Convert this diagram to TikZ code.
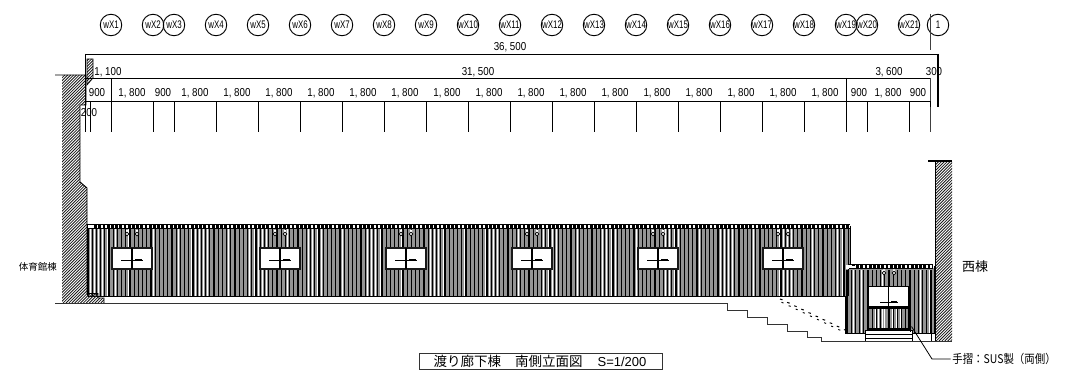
\documentclass[tikz,border=0pt]{standalone}
\usepackage{fontspec}
\setmainfont{Liberation Sans}
\newfontfamily\jp{Noto Sans CJK JP}
\tikzset{
 bub/.style={circle,draw=black,line width=0.95pt,minimum size=21.5pt,inner sep=0pt,font=\fontsize{11}{11}\selectfont},
 dim/.style={inner sep=0pt,font=\fontsize{11.5}{11.5}\selectfont,xscale=0.85,transform shape},
 jt/.style={inner sep=0pt},
 ln/.style={line width=0.95pt,black},
 thk/.style={line width=1.2pt,black}
}
\newcommand{\wnd}[1]{%
 \fill[white] (#1+1,247) rectangle (#1+40,270);
 \draw[line width=2.3pt,black!90] (#1+1.2,248.2) rectangle (#1+40.8,269);
 \draw[line width=1.5pt] (#1+21,248) -- (#1+21,269);
 \draw[line width=0.7pt] (#1+10,260) -- (#1+32,260);
 \draw[line width=1.1pt] (#1+11,260.6) -- (#1+18,260.6) (#1+24,259.4) -- (#1+31,259.4);
 \fill[white] (#1+15,230) rectangle (#1+17,233) (#1+25,230) rectangle (#1+27,233);
 \draw[line width=0.7pt,fill=white] (#1+16,234) circle (1.8) (#1+26,234) circle (1.8);
}
\newcommand{\hatch}[4]{% x0 y0 x1 y1 : dense / hatch, clip set by caller
 \foreach \k in {0,...,150} \draw[line width=0.8pt,black!90] ({#1+\k*2.9-(#4-#2)},#4) -- ({#1+\k*2.9},#2);
}
\begin{document}
\begin{tikzpicture}[x=1pt,y=-1pt]
\useasboundingbox (0,0) rectangle (1068,374);
\fill[white] (0,0) rectangle (1068,374);
% bubbles
\foreach \n/\x in {wX1/111,wX2/153,wX3/174,wX4/216,wX5/258,wX6/300,wX7/342,wX8/384,wX9/426,wX10/468,wX11/510,wX12/552,wX13/594,wX14/636,wX15/678,wX16/720,wX17/762,wX18/804,wX19/846,wX20/867,wX21/909,1/938}
 \node[bub] (b\n) at (\x,25) {\scalebox{0.72}[1]{\n}};
% building corrugation
\fill[black!42] (88,228) rectangle (850,296);
\fill[black!42] (846,268) rectangle (934,333);
\foreach \i in {0,...,181} \draw[line width=1.15pt,black] ({88+\i*4.2},228) -- ({88+\i*4.2},296);
\foreach \i in {0,...,21} \draw[line width=1.15pt,black] ({847+\i*4.2},270) -- ({847+\i*4.2},333);
\foreach \b in {0,1,2,3,4,6,9,15,21,24,25,26,27,28,33,38,39,40,41,42,47,52,53,54,55,60,66,67,68,69,74,81,82,83,84,89,94,95,96,97,102,108,109,110,111,116,122,123,124,125,130,137,138,139,140,145,150,151,152,153,158,164,165,166,167,172,178,179}
 \draw[white,line width=0.75pt] ({88+\b*4.2+2.1},228) -- ({88+\b*4.2+2.1},295.5);
\foreach \b in {1,3,8,17,19}
 \draw[white,line width=0.75pt] ({847+\b*4.2+2.1},270) -- ({847+\b*4.2+2.1},333);
% long building outline
\draw[line width=1.3pt] (88,296.5) -- (846,296.5);
\draw[line width=0.9pt] (88,226) -- (88,296);
\draw[line width=0.9pt] (850,226) -- (850,265);
% roof
\draw[line width=1.1pt] (88,224.6) -- (850,224.6) (88,228.6) -- (850,228.6);
\draw[line width=3.2pt,dash pattern=on 2.8pt off 1.4pt] (90,226.7) -- (850,226.7);
\fill[white] (846,264.5) rectangle (933,269);
\draw[line width=1.1pt] (849,264.6) -- (933,264.6) (849,268.8) -- (933,268.8);
\draw[line width=3.2pt,dash pattern=on 2.8pt off 1.4pt] (852,266.8) -- (933,266.8);
\fill[white] (849,265.5) rectangle (855,268.2);
\fill[white] (88,225) rectangle (95,228);
\draw[line width=0.5pt] (87.5,224) rectangle (94,228);
% windows
\foreach \x in {111,259,385,511,637,762} \wnd{\x};
% low building
\draw[line width=1.3pt] (846,296) -- (846,333.5) -- (935,333.5);
\draw[line width=0.9pt] (934,266) -- (934,334);
\draw[line width=0.6pt] (931,334) -- (931,341);
% door
\fill[white] (868,286) rectangle (909,306);
\foreach \x in {875,878,884,892,896,900} \fill[white] (\x,309) rectangle (\x+1.3,328);
\draw[line width=1.8pt] (868.5,286.5) rectangle (908.5,329);
\draw[line width=1.3pt] (888.5,286.5) -- (888.5,329);
\draw[line width=1.2pt] (868.5,308) -- (908.5,308);
\draw[line width=0.6pt] (868.5,306) -- (908.5,306);
\draw[line width=0.6pt] (880,302) -- (898,302);
\draw[line width=1pt] (880,302.5) -- (886,302.5) (891,301.5) -- (897,301.5);
\fill[white] (883,269.3) rectangle (885,272) (893,269.3) rectangle (895,272);
\draw[line width=0.7pt,fill=white] (884,273) circle (1.8) (894,273) circle (1.8);
% steps at door
\fill[white] (865,330) rectangle (912,341);
\draw[line width=0.8pt] (865.5,330) rectangle (912,341) (865.5,334) -- (912,334) (865.5,338) -- (912,338);
\draw[line width=1.3pt] (910.5,312) -- (910.5,332);
% walls
\begin{scope}
\clip (62,75) -- (86,75) -- (86,105) -- (80,105) -- (80,182) -- (87,188) -- (87,293.5) -- (98,293.5) -- (98,298) -- (104,298) -- (104,303) -- (62,303) -- cycle;
\hatch{62}{75}{86}{303}
\end{scope}
\draw[ln] (55,75) -- (86,75) -- (86,105) -- (80,105) -- (80,182) -- (87,188) -- (87,293.5) -- (98,293.5) -- (98,298) -- (104,298) -- (104,303);
\begin{scope}
\clip (87,59) -- (93,59) -- (93,78) -- (87,85) -- cycle;
\hatch{80}{59}{93}{85}
\end{scope}
\draw[line width=0.6pt] (87,59) -- (93,59) -- (93,78) -- (87,85) -- cycle;
\begin{scope}
\clip (935.5,161) rectangle (952,341);
\hatch{800}{161}{952}{341}
\end{scope}
\draw[line width=0.95pt] (935.5,161) -- (935.5,341);
\draw[line width=1.6pt] (928,161) -- (952,161);
% ground and stairs
\draw[line width=1pt,black!80] (55,303.5) -- (727,303.5) -- (727,310.5) -- (747,310.5) -- (747,317.5) -- (767,317.5) -- (767,324.5) -- (787,324.5) -- (787,331) -- (807,331) -- (807,337.5) -- (821.5,337.5) -- (821.5,341) -- (952,341);
% rail dashes
\foreach \k in {0,...,9} {
 \draw[line width=1pt] ({780+\k*7.1},{299+\k*3.4}) -- ({782.5+\k*7.1},{299.8+\k*3.4});
 \draw[line width=0.9pt] ({781.5+\k*7.1},{302.3+\k*3.4}) -- ({783.5+\k*7.1},{303+\k*3.4});
}
% dimension lines
\coordinate (da) at (85,54); \coordinate (db) at (938,54);
\coordinate (dc) at (85,78); \coordinate (dd) at (930.5,78);
\coordinate (de) at (85,101.5); \coordinate (df) at (930.5,101.5);
\draw[ln] (da) -- (db) (dc) -- (dd) (de) -- (df);
\draw[line width=1pt] (85,54) -- (85,132);
\draw[line width=0.8pt] (90,101.5) -- (90,132);
\foreach \x in {111,153,174,216,258,300,342,384,426,468,510,552,594,636,678,720,762,804,846.5,867,909} \draw[ln] (\x,101.5) -- (\x,132);
\draw[ln] (111,78) -- (111,101.5) (846.5,78) -- (846.5,101.5);
\draw[line width=0.8pt,black!75] (930.5,14) -- (930.5,50) (930.5,78) -- (930.5,132);
\draw[line width=1.6pt] (938,54) -- (938,107);
\draw[line width=1.2pt] (930.5,101.5) -- (930.5,107);
% dim text
\node[dim] at (510,47) {36,\kern3pt 500};
\node[dim] at (108,72) {1,\kern3pt 100};
\node[dim] at (478,72) {31,\kern3pt 500};
\node[dim] at (889,72) {3,\kern3pt 600};
\node[dim] at (934,72) {300};
\node[dim] at (89,113) {200};
\foreach \x in {97,163,859,918} \node[dim] at (\x,93) {900};
\foreach \x in {132,195,237,279,321,363,405,447,489,531,573,615,657,699,741,783,825,888} \node[dim] at (\x,93) {1,\kern3pt 800};
% labels
\node[jt,font=\jp\fontsize{9.5}{9.5}\selectfont] at (38,267) {体育館棟};
\node[jt,font=\jp\fontsize{13}{13}\selectfont] at (975,266.5) {西棟};
\node[jt,font=\jp\fontsize{12}{12}\selectfont,xscale=0.87,transform shape] (rl) at (1004,359) {手摺：SUS製（両側）};
\coordinate (rp) at (911.5,326.5);
\draw[line width=0.8pt] (rp) -- (932,359) -- (950.5,359);
\draw[line width=1pt,black!80] (419.5,353.5) rectangle (662.5,369.5);
\node[jt,font=\jp\fontsize{13.5}{13.5}\selectfont] at (540,361.5) {渡り廊下棟\hspace{14pt}南側立面図\hspace{15pt}{\fontspec{Liberation Sans}\fontsize{13}{13}\selectfont S=1/200}};
\end{tikzpicture}
\end{document}
